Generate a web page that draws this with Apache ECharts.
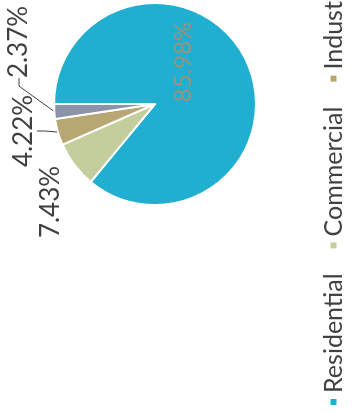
<!DOCTYPE html>
<html>
<head>
<meta charset="utf-8">
<script src="https://cdn.jsdelivr.net/npm/echarts@6/dist/echarts.min.js"></script>
<style>
  html, body { margin: 0; padding: 0; background: #fff; overflow: hidden; }
  /* the chart is drawn upright and turned a quarter to the left, like the scan */
  #main {
    position: absolute; left: 0; top: 0;
    width: 412px; height: 352px;
    transform-origin: 0 0;
    transform: translateY(412px) rotate(-90deg);
  }
</style>
</head>
<body>
<div id="main"></div>
<script>
const categories = ['Residential', 'Commercial', 'Industrial', 'Other'];
const shares = [85.98, 7.43, 4.22, 2.37];
const sliceColors = ['#20afd0', '#c4cd9c', '#b8a773', '#8a93a8'];

const chart = echarts.init(document.getElementById('main'));

// where each percent label sits (x, y in the upright chart)
const labelSpots = [
  { x: 350, y: 183 },
  { x: 210, y: 51 },
  { x: 281, y: 24 },
  { x: 370, y: 19 }
];

const option = {
  animation: false,
  textStyle: { fontFamily: 'Lato' },
  legend: {
    left: 0,
    top: 316,
    width: 2000,
    icon: 'rect',
    itemWidth: 8,
    itemHeight: 8,
    itemGap: 23,
    textStyle: { fontSize: 25, color: '#404040', fontFamily: 'Lato' },
    data: categories
  },
  series: [{
    type: 'pie',
    center: [308, 155],
    radius: 101,
    startAngle: 90,
    clockwise: true,
    itemStyle: { borderColor: '#fff', borderWidth: 2 },
    label: {
      show: true,
      position: 'outside',
      formatter: '{c}%',
      fontSize: 26,
      color: '#404040',
      fontFamily: 'Lato'
    },
    labelLine: {
      show: true,
      length: 8,
      length2: 8,
      lineStyle: { color: '#404040', width: 1 }
    },
    labelLayout: function (p) {
      const s = labelSpots[p.dataIndex];
      return { x: s.x, y: s.y, align: 'center', verticalAlign: 'middle' };
    },
    data: categories.map(function (name, i) {
      const item = { name: name, value: shares[i], itemStyle: { color: sliceColors[i] } };
      if (i === 0) {
        item.label = { position: 'inside', color: '#9a917a', fontSize: 24 };
        item.labelLine = { show: false };
      }
      if (i === 1) {
        item.labelLine = { show: false };
      }
      return item;
    })
  }]
};

chart.setOption(option);
</script>
</body>
</html>
